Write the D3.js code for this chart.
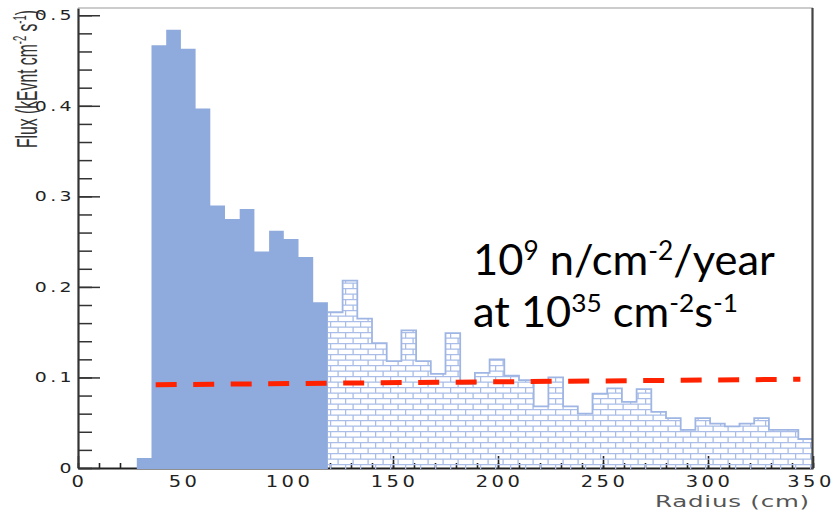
<!DOCTYPE html>
<html>
<head>
<meta charset="utf-8">
<script src="https://cdn.jsdelivr.net/npm/d3@7"></script>
<style>
  html, body { margin: 0; padding: 0; background: #fff; }
  svg { display: block; }
</style>
</head>
<body>
<svg id="chart" width="835" height="510"></svg>
<script>
// ---------------- data ----------------
const binWidthCm = 7;                  // histogram bin width (cm)
const solidStartCm = 28;               // first filled bin (solid part)
const hatchedStartCm = 119;            // first hatched bin
const solidFlux = [0.011, 0.467, 0.484, 0.463, 0.397, 0.290, 0.275, 0.286, 0.239, 0.262, 0.253, 0.233, 0.183];
const hatchedFlux = [0.172, 0.207, 0.165, 0.138, 0.118, 0.152, 0.118, 0.104, 0.149, 0.093,
                     0.105, 0.120, 0.102, 0.097, 0.068, 0.100, 0.068, 0.060, 0.082, 0.088,
                     0.073, 0.087, 0.062, 0.055, 0.042, 0.055, 0.049, 0.046, 0.049, 0.055,
                     0.042, 0.042, 0.032];
const limitRadius = [37, 344];         // red dashed reference line
const limitFlux = [0.092, 0.098];
const xTicks = [0, 50, 100, 150, 200, 250, 300, 350];
const xTickLabels = ["0", "50", "100", "150", "200", "250", "300", "350"];
const yTicks = [0, 0.1, 0.2, 0.3, 0.4, 0.5];
const yTickLabels = ["0", "0.1", "0.2", "0.3", "0.4", "0.5"];
const xTitle = "Radius (cm)";
const annotationLine1 = [["10", false], ["9", true], [" n/cm", false], ["-2", true], ["/year", false]];
const annotationLine2 = [["at 10", false], ["35", true], [" cm", false], ["-2", true], ["s", false], ["-1", true]];
const yTitleParts = [["Flux (kEvnt cm", false], ["-2", true], [" s", false], ["-1", true], [")", false]];

// ---------------- layout ----------------
const svg = d3.select("#chart");
const x = d3.scaleLinear().domain([0, 350]).range([78, 813]);
const y = d3.scaleLinear().domain([0, 0.508]).range([468, 8]);
const solidColor = "#8faadc";
const hatchLine = "#a9bde8";

// pattern for the hatched (brick) part
const defs = svg.append("defs");
const pat = defs.append("pattern").attr("id", "brick")
  .attr("patternUnits", "userSpaceOnUse")
  .attr("width", 15).attr("height", 11).attr("x", 0).attr("y", 2);
pat.append("path")
  .attr("d", "M0,0.6H15M0,6.1H15M0.6,0.6V6.1M8.1,6.1V11")
  .attr("stroke", hatchLine).attr("stroke-width", 1.3).attr("fill", "none");

// ---------- axes (drawn beneath the histogram) ----------
const axisColor = "#222";
const gx = svg.append("g").attr("transform", `translate(0,${y(0)})`);
gx.call(d3.axisBottom(x).tickValues(d3.range(0, 351, 10)).tickSize(-5).tickSizeOuter(0).tickFormat(""));
gx.append("g").call(d3.axisBottom(x).tickValues(xTicks).tickSize(-12).tickSizeOuter(0).tickFormat(""))
  .select(".domain").remove();
gx.selectAll("line").attr("stroke", axisColor).attr("stroke-width", 1.6);
gx.select(".domain").attr("stroke", axisColor).attr("stroke-width", 2.2);

const gy = svg.append("g").attr("transform", `translate(${x(0)},0)`);
gy.call(d3.axisLeft(y).tickValues(d3.range(0, 0.501, 0.02)).tickSize(-14).tickSizeOuter(0).tickFormat(""));
gy.append("g").call(d3.axisLeft(y).tickValues(yTicks).tickSize(-22).tickSizeOuter(0).tickFormat(""))
  .select(".domain").remove();
gy.selectAll("line").attr("stroke", "#333").attr("stroke-width", 1.5);
gy.select(".domain").attr("stroke", "#333").attr("stroke-width", 2.2);

// ---------- histogram ----------
const solidPts = solidFlux.map((v, i) => ({ r: solidStartCm + i * binWidthCm, v }));
solidPts.push({ r: solidStartCm + solidFlux.length * binWidthCm, v: solidFlux[solidFlux.length - 1] });
const hatchPts = hatchedFlux.map((v, i) => ({ r: hatchedStartCm + i * binWidthCm, v }));
hatchPts.push({ r: hatchedStartCm + hatchedFlux.length * binWidthCm, v: hatchedFlux[hatchedFlux.length - 1] });

const area = d3.area().x(d => x(d.r)).y0(y(0) + 1).y1(d => y(d.v)).curve(d3.curveStepAfter);
const line = d3.line().x(d => x(d.r)).y(d => y(d.v)).curve(d3.curveStepAfter);

svg.append("path").datum(hatchPts).attr("d", area).attr("fill", "url(#brick)");
svg.append("path").datum(hatchPts).attr("d", line).attr("fill", "none")
  .attr("stroke", "#9fb6e4").attr("stroke-width", 1.8);
svg.append("path").datum(solidPts).attr("d", area).attr("fill", solidColor);

// ---------- frame (top & right) ----------
svg.append("line").attr("x1", x(0)).attr("x2", x(350)).attr("y1", y(0.508)).attr("y2", y(0.508))
  .attr("stroke", "#999").attr("stroke-width", 1.2);
svg.append("line").attr("x1", x(350) - 0.5).attr("x2", x(350) - 0.5).attr("y1", y(0.508)).attr("y2", y(0) + 1)
  .attr("stroke", "#444").attr("stroke-width", 2.2);

// ---------- red dashed line ----------
svg.append("line")
  .attr("x1", x(limitRadius[0])).attr("x2", x(limitRadius[1]))
  .attr("y1", y(limitFlux[0])).attr("y2", y(limitFlux[1]))
  .attr("stroke", "#ff2200").attr("stroke-width", 5)
  .attr("stroke-dasharray", "21 16.5");

// ---------- tick labels ----------
const tickFont = "DejaVu Sans, sans-serif";
xTicks.forEach((t, i) => {
  const last = i === xTicks.length - 1;
  svg.append("text")
    .attr("transform", `translate(${last ? x(t) - 2 : x(t) + 1.5},487) scale(1.3,1)`)
    .attr("text-anchor", "middle")
    .attr("font-family", tickFont).attr("font-size", 15)
    .attr("letter-spacing", 2.6).attr("fill", "#222")
    .text(xTickLabels[i]);
});
yTicks.forEach((t, i) => {
  svg.append("text")
    .attr("transform", `translate(75,${y(t) + 5}) scale(1.35,1)`)
    .attr("text-anchor", "end")
    .attr("font-family", tickFont).attr("font-size", 14)
    .attr("letter-spacing", 2.5).attr("fill", "#222")
    .text(yTickLabels[i]);
});

// ---------- axis titles ----------
function fitText(sel, target) {
  const len = sel.node().getComputedTextLength();
  return target / len;
}
const xt = svg.append("text")
  .attr("font-family", tickFont).attr("font-size", 16)
  .attr("letter-spacing", 0.5).attr("fill", "#555")
  .text(xTitle);
const kx = fitText(xt, 155);
xt.attr("transform", `translate(655,507) scale(${kx},1)`);

function addParts(textSel, parts, supSize, supShift) {
  parts.forEach(([s, sup], i) => {
    const prevSup = i > 0 && parts[i - 1][1];
    const ts = textSel.append("tspan").text(s);
    if (sup) ts.attr("font-size", supSize).attr("dy", -supShift);
    else if (prevSup) ts.attr("dy", supShift);
  });
}

const yt = svg.append("text")
  .attr("font-family", "Liberation Sans, Arial, sans-serif").attr("font-size", 30)
  .attr("fill", "#333");
addParts(yt, yTitleParts, 18, 11);
const ky = fitText(yt, 138);
yt.attr("transform", `translate(37,148) rotate(-90) scale(${ky},1)`);

// ---------- annotation ----------
const annFont = "Lato, Open Sans, sans-serif";
const a1 = svg.append("text").attr("font-family", annFont).attr("font-size", 43).attr("fill", "#000");
addParts(a1, annotationLine1, 26, 15);
const k1 = fitText(a1, 302);
a1.attr("transform", `translate(473,275) scale(${k1},1)`);
const a2 = svg.append("text").attr("font-family", annFont).attr("font-size", 43).attr("fill", "#000");
addParts(a2, annotationLine2, 26, 15);
const k2 = fitText(a2, 265);
a2.attr("transform", `translate(473,327) scale(${k2},1)`);
</script>
</body>
</html>
